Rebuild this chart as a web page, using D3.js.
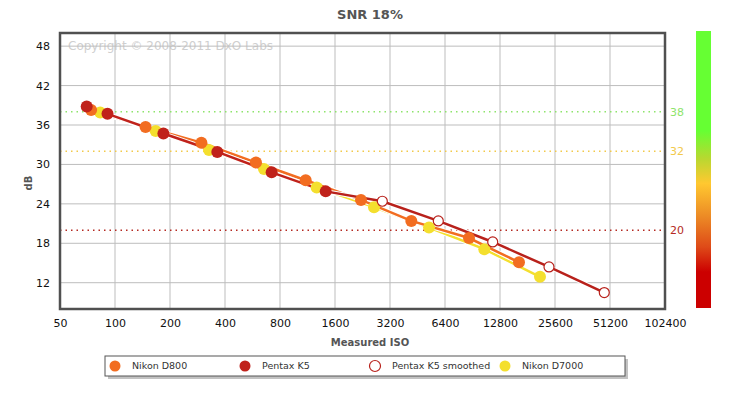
<!DOCTYPE html>
<html>
<head>
<meta charset="utf-8">
<script src="https://cdn.jsdelivr.net/npm/d3@7"></script>
<style>
body { margin: 0; background: #fff; }
text { font-family: "DejaVu Sans", Verdana, sans-serif; }
</style>
</head>
<body>
<div id="chart"></div>
<script>
var w = 740, h = 399;

// data: [measured ISO, dB]
var d800 = [[74, 38.3], [147, 35.7], [297, 33.3], [591, 30.3], [1106, 27.6], [2220, 24.6], [4186, 21.4], [8662, 18.8], [16262, 15.1]];
var k5 = [[70, 38.8], [91, 37.7], [184, 34.7], [363, 31.9], [720, 28.8], [1423, 25.9]];
var k5smooth = [[1423, 25.9], [2905, 24.4], [5882, 21.4], [11676, 18.2], [23736, 14.4], [47640, 10.5]];
var d7000 = [[83, 37.9], [167, 35.1], [327, 32.2], [654, 29.3], [1270, 26.5], [2616, 23.5], [5232, 20.4], [10504, 17.1], [21187, 12.9]];

var xTicks = [50, 100, 200, 400, 800, 1600, 3200, 6400, 12800, 25600, 51200, 102400];
var yTicks = [12, 18, 24, 30, 36, 42, 48];
var thresholds = [38, 32, 20];
var thresholdColors = ["#8de46b", "#f2c94a", "#b52a22"];

var seriesNames = ["Nikon D800", "Pentax K5", "Pentax K5 smoothed", "Nikon D7000"];

var plotL = 60, plotR = 665, plotT = 33, plotB = 309;

var svg = d3.select("#chart")
    .append("svg")
    .attr("width", w)
    .attr("height", h);

var xScale = d3.scaleLog().base(2)
    .domain([50, 102400])
    .range([plotL, plotR]);

var yScale = d3.scaleLinear()
    .domain([8, 50])
    .range([plotB, plotT]);

// title
svg.append("text")
    .attr("x", 370)
    .attr("y", 19)
    .attr("text-anchor", "middle")
    .attr("font-size", "13px")
    .attr("font-weight", "bold")
    .attr("fill", "#555")
    .text("SNR 18%");

// copyright watermark (under the grid)
svg.append("text")
    .attr("x", 68)
    .attr("y", 50)
    .attr("font-family", "Liberation Sans, Arial, sans-serif")
    .attr("font-size", "12px")
    .attr("fill", "#cfcfcf")
    .text("Copyright \u00a9 2008-2011 DxO Labs");

// grid
svg.selectAll(".vgrid")
    .data(xTicks)
    .enter()
    .append("line")
    .attr("x1", function (d) { return xScale(d); })
    .attr("x2", function (d) { return xScale(d); })
    .attr("y1", plotT)
    .attr("y2", plotB)
    .attr("stroke", "#bdbdbd")
    .attr("stroke-width", 1);

svg.selectAll(".hgrid")
    .data(yTicks)
    .enter()
    .append("line")
    .attr("x1", plotL)
    .attr("x2", plotR)
    .attr("y1", function (d) { return yScale(d); })
    .attr("y2", function (d) { return yScale(d); })
    .attr("stroke", "#bdbdbd")
    .attr("stroke-width", 1);

// threshold lines
svg.selectAll(".thr")
    .data(thresholds)
    .enter()
    .append("line")
    .attr("x1", plotL)
    .attr("x2", plotR)
    .attr("y1", function (d) { return yScale(d); })
    .attr("y2", function (d) { return yScale(d); })
    .attr("stroke", function (d, i) { return thresholdColors[i]; })
    .attr("stroke-width", 1.5)
    .attr("stroke-dasharray", "1.5,4");

svg.selectAll(".thrlabel")
    .data(thresholds)
    .enter()
    .append("text")
    .attr("x", 670)
    .attr("y", function (d) { return yScale(d) + 4; })
    .attr("font-size", "11px")
    .attr("fill", function (d, i) { return thresholdColors[i]; })
    .text(function (d) { return d; });

// axes (labels only, frame drawn separately)
var xAxis = d3.axisBottom(xScale)
    .tickValues(xTicks)
    .tickFormat(function (d) { return d; })
    .tickSize(0)
    .tickPadding(10);

var yAxis = d3.axisLeft(yScale)
    .tickValues(yTicks)
    .tickSize(0)
    .tickPadding(10);

var gx = svg.append("g")
    .attr("transform", "translate(0," + plotB + ")")
    .call(xAxis);
gx.select(".domain").remove();
gx.selectAll("text").attr("font-size", "11px").attr("fill", "#111").attr("font-family", "DejaVu Sans, Verdana, sans-serif");

var gy = svg.append("g")
    .attr("transform", "translate(" + plotL + ",0)")
    .call(yAxis);
gy.select(".domain").remove();
gy.selectAll("text").attr("font-size", "11px").attr("fill", "#111").attr("font-family", "DejaVu Sans, Verdana, sans-serif");

// frame
svg.append("rect")
    .attr("x", plotL)
    .attr("y", plotT)
    .attr("width", plotR - plotL)
    .attr("height", plotB - plotT)
    .attr("fill", "none")
    .attr("stroke", "#505050")
    .attr("stroke-width", 2.5);

// axis titles
svg.append("text")
    .attr("x", 370)
    .attr("y", 346)
    .attr("text-anchor", "middle")
    .attr("font-size", "10px")
    .attr("font-weight", "bold")
    .attr("fill", "#555")
    .text("Measured ISO");

svg.append("text")
    .attr("transform", "translate(32,183) rotate(-90)")
    .attr("text-anchor", "middle")
    .attr("font-size", "10px")
    .attr("font-weight", "bold")
    .attr("fill", "#555")
    .text("dB");

// color bar
var grad = svg.append("defs").append("linearGradient")
    .attr("id", "bar")
    .attr("x1", 0).attr("y1", 0).attr("x2", 0).attr("y2", 1);
var stops = [[0, "#66ff33"], [0.36, "#66ff33"], [0.46, "#b8d830"], [0.55, "#ffc830"], [0.67, "#ec8a25"], [0.78, "#de4a18"], [0.87, "#cc0000"], [1, "#cc0000"]];
grad.selectAll("stop")
    .data(stops)
    .enter()
    .append("stop")
    .attr("offset", function (d) { return d[0]; })
    .attr("stop-color", function (d) { return d[1]; });

svg.append("rect")
    .attr("x", 696)
    .attr("y", 31)
    .attr("width", 15)
    .attr("height", 277)
    .attr("fill", "url(#bar)");

// series
var line = d3.line()
    .x(function (d) { return xScale(d[0]); })
    .y(function (d) { return yScale(d[1]); });

var series = [
    { data: d7000, color: "#f4df2e", open: false },
    { data: d800, color: "#f26d21", open: false },
    { data: k5smooth, color: "#b8211b", open: true },
    { data: k5, color: "#c0221b", open: false }
];

series.forEach(function (s) {
    svg.append("path")
        .attr("d", line(s.data))
        .attr("fill", "none")
        .attr("stroke", "#fff")
        .attr("stroke-width", 4.5);
    svg.append("path")
        .attr("d", line(s.data))
        .attr("fill", "none")
        .attr("stroke", s.color)
        .attr("stroke-width", 2.5);
});

series.forEach(function (s) {
    svg.selectAll(null)
        .data(s.open ? s.data.slice(1) : s.data)
        .enter()
        .append("circle")
        .attr("cx", function (d) { return xScale(d[0]); })
        .attr("cy", function (d) { return yScale(d[1]); })
        .attr("r", s.open ? 5 : 6)
        .attr("fill", s.open ? "#fff" : s.color)
        .attr("stroke", s.open ? s.color : "none")
        .attr("stroke-width", 1.2);
});

// legend
var legendColors = ["#f26d21", "#c0221b", "#b8211b", "#f4df2e"];
svg.append("rect")
    .attr("x", 108)
    .attr("y", 359)
    .attr("width", 520)
    .attr("height", 20)
    .attr("fill", "#999")
    .attr("opacity", 0.6);
svg.append("rect")
    .attr("x", 105)
    .attr("y", 356)
    .attr("width", 520)
    .attr("height", 20)
    .attr("fill", "#fff")
    .attr("stroke", "#555")
    .attr("stroke-width", 1);

svg.selectAll(".legc")
    .data(seriesNames)
    .enter()
    .append("circle")
    .attr("cx", function (d, i) { return 115 + i * 130; })
    .attr("cy", 366)
    .attr("r", 5.5)
    .attr("fill", function (d, i) { return i == 2 ? "#fff" : legendColors[i]; })
    .attr("stroke", function (d, i) { return i == 2 ? legendColors[i] : "none"; })
    .attr("stroke-width", 1.2);

svg.selectAll(".legt")
    .data(seriesNames)
    .enter()
    .append("text")
    .attr("x", function (d, i) { return 132 + i * 130; })
    .attr("y", 369)
    .attr("font-family", "Liberation Sans, Arial, sans-serif")
    .attr("font-size", "9.5px")
    .attr("fill", "#333")
    .text(function (d) { return d; });
</script>
</body>
</html>
